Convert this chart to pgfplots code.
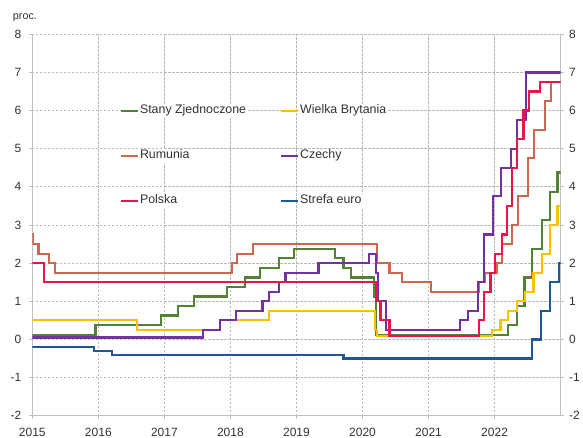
\documentclass[border=0pt]{standalone}
\usepackage{fontspec}
\setmainfont{Liberation Sans}
\usepackage{pgfplots}
\pgfplotsset{compat=1.18}
\definecolor{cUS}{RGB}{84,130,53}
\definecolor{cUK}{RGB}{255,192,0}
\definecolor{cRO}{RGB}{201,104,78}
\definecolor{cCZ}{RGB}{115,48,160}
\definecolor{cPL}{RGB}{232,22,72}
\definecolor{cEA}{RGB}{31,88,148}
\definecolor{axisgray}{RGB}{191,191,191}
\definecolor{gridgray}{RGB}{185,185,185}
\definecolor{txt}{RGB}{50,50,50}
\begin{document}
\begin{tikzpicture}
\path[use as bounding box] (-32.3bp,-22.3bp) rectangle (550.7bp,415.7bp);
\begin{axis}[
  at={(0,0)}, anchor=south west,
  scale only axis, width=528.4bp, height=381.4bp,
  xmin=2015, xmax=2023, ymin=-2, ymax=8,
  xtick={2015,...,2022}, ytick={-2,...,8},
  axis x line=bottom, axis y line=box,
  axis line style={-, draw=axisgray, line width=1bp},
  grid=major,
  grid style={draw=gridgray, line width=0.8bp, dash pattern=on 2.2bp off 1.8bp},
  tick align=outside, major tick length=3.5bp,
  tick style={draw=axisgray, line width=0.8bp},
  /pgf/number format/assume math mode=true,
  tick label style={font=\fontsize{12bp}{14bp}\selectfont, text=txt},
  xticklabel style={/pgf/number format/1000 sep={}, yshift=-5bp},
  yticklabel style={xshift=-4bp},
  every axis plot/.append style={line width=2.2bp, const plot},
  legend columns=2,
  legend cell align=left,
  legend image code/.code={\draw[#1, line width=2bp] (0bp,0bp) -- (17bp,0bp);},
  legend style={at={(axis cs:2016.328,6.184)}, anchor=north west, draw=none, fill=none,
    inner sep=0pt, outer sep=0pt, row sep=31bp, column sep=0pt,
    font=\fontsize{12.4bp}{14bp}\selectfont, text=txt,
    nodes={fill=white, inner sep=1bp, text height=9bp, text depth=3bp},
    /tikz/every even column/.append style={column sep=33bp}},
]
\addplot[cUS] coordinates {(2015,0.125) (2015.956,0.375) (2016.951,0.625) (2017.200,0.875) (2017.449,1.125) (2017.945,1.375) (2018.216,1.625) (2018.449,1.875) (2018.734,2.125) (2018.967,2.375) (2019.578,2.125) (2019.712,1.875) (2019.827,1.625) (2020.170,1.125) (2020.203,0.125) (2022.203,0.375) (2022.337,0.875) (2022.452,1.625) (2022.567,2.375) (2022.721,3.125) (2022.836,3.875) (2022.951,4.375) (2023,4.375)};
\addlegendentry{Stany Zjednoczone}
\addplot[cUK] coordinates {(2015,0.5) (2016.590,0.25) (2017.836,0.5) (2018.584,0.75) (2020.192,0.25) (2020.214,0.1) (2021.956,0.25) (2022.090,0.5) (2022.205,0.75) (2022.340,1.0) (2022.455,1.25) (2022.589,1.75) (2022.723,2.25) (2022.838,3.0) (2022.953,3.5) (2023,3.5)};
\addlegendentry{Wielka Brytania}
\addplot[cRO] coordinates {(2015,2.75) (2015.016,2.5) (2015.093,2.25) (2015.247,2.0) (2015.342,1.75) (2018.019,2.0) (2018.101,2.25) (2018.345,2.5) (2020.216,2.0) (2020.408,1.75) (2020.595,1.5) (2021.038,1.25) (2021.762,1.5) (2021.855,1.75) (2022.027,2.0) (2022.107,2.5) (2022.260,3.0) (2022.356,3.75) (2022.510,4.75) (2022.592,5.5) (2022.762,6.25) (2022.855,6.75) (2023,6.75)};
\addlegendentry{Rumunia}
\addplot[cCZ] coordinates {(2015,0.05) (2017.586,0.25) (2017.836,0.5) (2018.085,0.75) (2018.485,1.0) (2018.584,1.25) (2018.737,1.5) (2018.833,1.75) (2019.332,2.0) (2020.101,2.25) (2020.208,1.75) (2020.236,1.0) (2020.351,0.25) (2021.477,0.5) (2021.595,0.75) (2021.745,1.5) (2021.841,2.75) (2021.975,3.75) (2022.093,4.5) (2022.244,5.0) (2022.342,5.75) (2022.474,7.0) (2023,7.0)};
\addlegendentry{Czechy}
\addplot[cPL] coordinates {(2015,2.0) (2015.173,1.5) (2020.211,1.0) (2020.271,0.5) (2020.408,0.1) (2021.764,0.5) (2021.841,1.25) (2021.937,1.75) (2022.011,2.25) (2022.107,2.75) (2022.184,3.5) (2022.263,4.5) (2022.342,5.25) (2022.436,6.0) (2022.515,6.5) (2022.685,6.75) (2023,6.75)};
\addlegendentry{Polska}
\addplot[cEA] coordinates {(2015,-0.2) (2015.937,-0.3) (2016.205,-0.4) (2019.712,-0.5) (2022.567,0) (2022.701,0.75) (2022.836,1.5) (2022.970,2.0) (2023,2.0)};
\addlegendentry{Strefa euro}
\end{axis}
\begin{axis}[
  at={(0,0)}, anchor=south west,
  scale only axis, width=528.4bp, height=381.4bp,
  xmin=2015, xmax=2023, ymin=-2, ymax=8,
  ytick={-2,...,8},
  hide x axis, axis y line*=right,
  axis line style={draw=none}, tick style={draw=none},
  major tick length=3.5bp,
  /pgf/number format/assume math mode=true,
  tick label style={font=\fontsize{12bp}{14bp}\selectfont, text=txt},
  yticklabel style={xshift=5bp},
]
\end{axis}
\node[anchor=base west, font=\fontsize{10.8bp}{12bp}\selectfont, text=txt, inner sep=0pt] at (-19.6bp,395.7bp) {proc.};
\end{tikzpicture}
\end{document}
